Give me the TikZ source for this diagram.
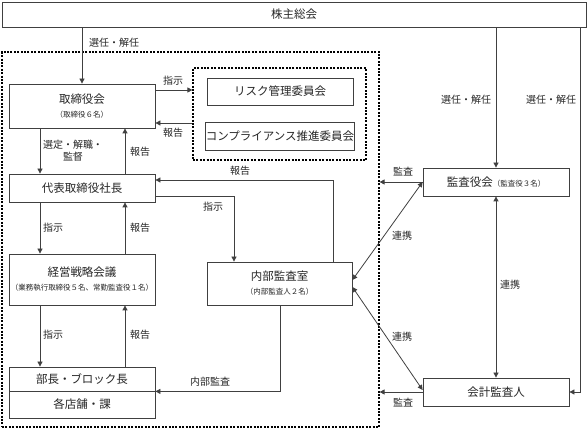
\documentclass[tikz,border=0pt]{standalone}
\usepackage{fontspec}
\setmainfont{Noto Sans CJK JP}
\usetikzlibrary{arrows.meta}
\tikzset{
  box/.style={draw=black!75, line width=0.8pt, fill=white, inner sep=0pt, align=center, text=black!85, font=\fontsize{11.5}{13}\selectfont},
  dbox/.style={draw=black, line width=1.2pt, dash pattern=on 2pt off 1.4pt, inner sep=0pt},
  arr/.style={draw=black!75, line width=0.8pt, -{Triangle[length=5pt,width=5pt]}},
  darr/.style={draw=black!75, line width=0.8pt, {Triangle[length=5pt,width=5pt]}-{Triangle[length=5pt,width=5pt]}},
  lbl/.style={text=black!85, font=\fontsize{10}{12}\selectfont, inner sep=0pt, align=center}
}
\begin{document}
\begin{tikzpicture}[x=1pt,y=-1pt]
\useasboundingbox (0,0) rectangle (587,430);
% dashed frames
\node[dbox, minimum width=377pt, minimum height=375pt] (outer) at (190.5,239.5) {};
\node[dbox, minimum width=173pt, minimum height=92pt] (inner) at (279.5,114) {};
% boxes
\node[box, minimum width=584pt, minimum height=25pt] (kabu) at (294,14.5) {株主総会};
\node[box, minimum width=146pt, minimum height=44pt] (tori) at (82,106) {取締役会\\[1pt]{\fontsize{7.5}{9}\selectfont（取締役６名）}};
\node[box, minimum width=146pt, minimum height=27pt] (risk) at (280,91.5) {リスク管理委員会};
\node[box, minimum width=146pt, minimum height=28pt] (comp) at (280,136) {コンプライアンス推進委員会};
\node[box, minimum width=146pt, minimum height=28pt] (daihyo) at (82,188) {代表取締役社長};
\node[box, minimum width=146pt, minimum height=51pt] (keiei) at (82,279.5) {経営戦略会議\\[1pt]{\fontsize{7.5}{9}\selectfont（業務執行取締役５名、常勤監査役１名）}};
\node[box, minimum width=145pt, minimum height=43pt] (naibu) at (279.5,283.5) {内部監査室\\[1pt]{\fontsize{7.5}{9}\selectfont（内部監査人２名）}};
\node[box, minimum width=146pt, minimum height=24pt] (bucho) at (82,379) {部長・ブロック長};
\node[box, minimum width=146pt, minimum height=27pt] (kaku) at (82,404.5) {各店舗・課};
\node[box, minimum width=146pt, minimum height=28pt] (kansa) at (496,182) {監査役会{\fontsize{7.5}{9}\selectfont（監査役３名）}};
\node[box, minimum width=146pt, minimum height=28pt] (kaikei) at (496,392) {会計監査人};
% helper coordinates
\coordinate (xL) at (40,0);
\coordinate (xR) at (125,0);
\coordinate (y90) at (0,90);
\coordinate (y123) at (0,123);
\coordinate (r1) at (333,180);
\coordinate (r2) at (234,196);
\coordinate (r3) at (280,391);
\coordinate (r4) at (580,0);
% connectors
\draw[arr] (kabu.south -| tori.north) -- (tori.north);
\node[lbl] at (114,43) {選任・解任};
\draw[arr] (tori.east |- y90) -- (inner.west |- y90);
\node[lbl] at (173,81) {指示};
\draw[arr] (inner.west |- y123) -- (tori.east |- y123);
\node[lbl] at (173,133) {報告};
\draw[arr] (tori.south -| xL) -- (daihyo.north -| xL);
\node[lbl] at (73,151) {選定・解職・\\監督};
\draw[arr] (daihyo.north -| xR) -- (tori.south -| xR);
\node[lbl] at (140,152) {報告};
\draw[arr] (naibu.north -| r1) |- (daihyo.east |- r1);
\node[lbl] at (240,171) {報告};
\draw[arr] (daihyo.east |- r2) -| (naibu.north -| r2);
\node[lbl] at (213,207) {指示};
\draw[arr] (daihyo.south -| xL) -- (keiei.north -| xL);
\node[lbl] at (53,228) {指示};
\draw[arr] (keiei.north -| xR) -- (daihyo.south -| xR);
\node[lbl] at (140,228) {報告};
\draw[arr] (keiei.south -| xL) -- (bucho.north -| xL);
\node[lbl] at (53,335) {指示};
\draw[arr] (bucho.north -| xR) -- (keiei.south -| xR);
\node[lbl] at (140,335) {報告};
\draw[arr] (naibu.south -| r3) |- (bucho.south east);
\node[lbl] at (210,382) {内部監査};
\draw[arr] (kabu.south -| kansa.north) -- (kansa.north);
\node[lbl] at (466,100) {選任・解任};
\draw[arr] (kabu.south -| r4) |- (kaikei.east);
\node[lbl] at (551,100) {選任・解任};
\draw[arr] (kansa.west) -- (outer.east |- kansa.west);
\node[lbl] at (403,172) {監査};
\draw[darr] ([yshift=3.5pt]naibu.east) -- (kansa.west);
\node[lbl] at (402,236) {連携};
\draw[darr] ([yshift=-3.5pt]naibu.east) -- ([yshift=2pt]kaikei.west);
\node[lbl] at (402,337) {連携};
\draw[darr] (kansa.south) -- (kaikei.north);
\node[lbl] at (510,285) {連携};
\draw[arr] (kaikei.west) -- (outer.east |- kaikei.west);
\node[lbl] at (403,403) {監査};
\end{tikzpicture}
\end{document}
